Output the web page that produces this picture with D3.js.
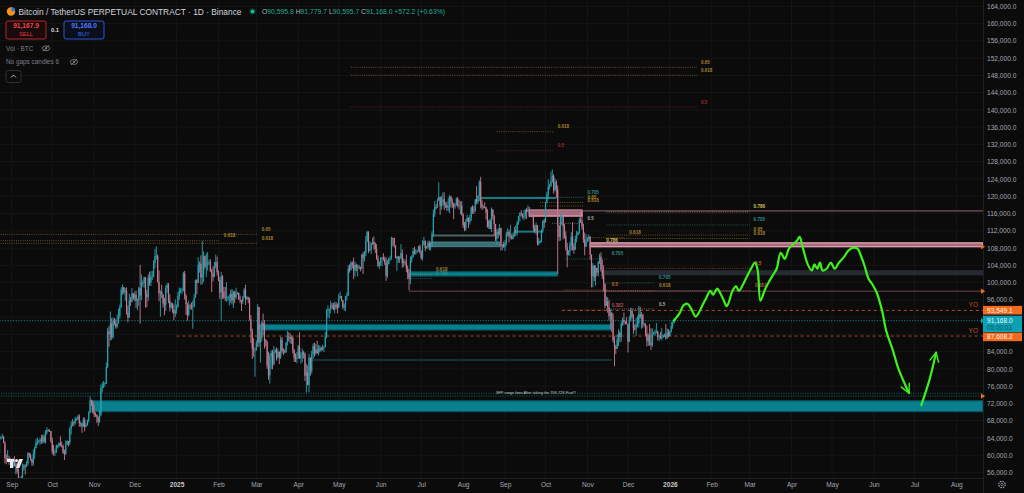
<!DOCTYPE html>
<html><head><meta charset="utf-8">
<script src="https://cdn.jsdelivr.net/npm/d3@7"></script>
<style>
html,body{margin:0;padding:0;background:#0b0b0b;overflow:hidden}
svg{display:block;font-family:"Liberation Sans",Arial,sans-serif}
</style></head><body>
<svg id="c" width="1024" height="493"></svg>
<script>
// ---------------- DATA (daily candles, thousands of USDT) ----------------
const firstDate = "2024-08-23";
const firstOpenK = 60.4;
const closeK = [
64.1,64.2,64.2,62.8,59.4,59.0,59.4,59.1,58.9,
57.3,59.1,57.5,58.0,56.2,53.9,54.2,54.9,57.0,57.6,57.4,58.1,60.5,60.0,59.1,58.2,60.3,61.7,62.9,63.2,63.3,63.6,63.3,64.3,63.1,65.2,65.8,65.8,65.6,63.3,
60.8,60.6,60.8,62.1,62.1,62.8,62.2,62.1,60.6,60.3,62.4,63.2,62.9,66.1,67.0,67.6,67.4,68.4,68.4,69.0,67.4,67.4,66.7,68.2,66.6,67.0,68.0,69.9,72.7,72.3,70.2,
69.5,69.4,68.8,67.8,69.4,75.6,75.9,76.5,76.7,80.5,88.7,88.0,90.5,87.3,91.1,90.6,89.8,90.5,92.3,94.3,98.3,98.9,97.7,98.0,93.0,91.9,95.9,95.6,97.5,96.4,
97.2,95.8,96.0,98.7,97.0,99.9,99.9,101.2,97.4,96.6,101.1,100.0,101.4,101.4,104.5,106.1,106.1,100.2,97.5,97.8,97.2,95.2,94.9,98.7,99.4,95.8,94.2,95.2,93.7,92.8,93.6,
94.4,96.9,98.1,98.2,98.3,102.1,96.9,95.0,92.5,94.7,94.6,94.5,94.5,96.5,100.5,99.9,104.1,104.4,101.2,102.0,106.1,103.7,104.0,104.7,104.7,102.6,102.1,101.3,103.7,104.7,102.4,
100.6,97.7,101.4,97.9,96.6,96.5,96.5,96.5,96.5,97.4,95.8,97.9,96.6,97.5,97.6,96.1,95.8,95.6,96.6,98.3,96.1,96.6,96.3,91.5,88.7,84.7,84.3,84.4,
86.0,94.3,86.1,87.2,90.6,89.9,86.7,86.2,80.7,78.5,82.9,83.7,81.1,83.9,84.3,82.6,84.0,82.7,86.8,84.2,84.0,83.8,86.1,87.5,87.4,86.9,87.2,84.4,82.6,82.3,82.5,
85.2,82.5,83.1,83.8,83.5,78.4,79.2,76.3,82.6,79.6,83.4,85.3,83.7,84.5,83.6,84.0,84.9,84.4,85.0,85.1,87.5,93.4,93.7,93.9,94.7,94.6,93.8,94.9,94.3,94.2,
96.5,96.9,95.9,94.3,94.7,96.8,97.0,103.2,102.9,104.6,104.1,102.8,104.1,103.5,103.7,103.5,103.2,106.5,105.6,106.8,109.6,111.7,107.3,107.8,109.0,109.4,108.9,107.8,105.6,103.9,104.6,
105.7,105.8,105.4,104.7,101.5,104.3,105.6,105.7,110.3,110.2,108.6,105.7,106.0,105.4,105.6,106.8,104.5,104.8,104.6,103.3,102.1,100.9,105.3,106.0,107.3,106.9,107.1,107.3,108.4,107.1,
105.7,108.8,109.6,108.0,108.2,109.2,108.2,108.9,111.3,115.9,117.5,117.4,119.1,119.8,117.7,118.7,119.3,117.9,118.0,117.3,117.4,119.9,118.8,118.3,117.6,117.9,119.4,118.0,117.8,117.8,115.7,
113.3,112.5,114.2,115.0,114.1,115.0,117.4,116.6,116.5,119.3,118.7,120.1,123.3,118.3,117.4,117.5,117.4,116.2,112.9,114.3,112.4,116.9,115.4,113.5,110.1,111.8,111.2,112.6,108.4,108.8,108.2,
109.2,111.2,111.7,110.7,110.7,110.2,111.1,112.1,111.5,113.9,115.4,116.1,115.9,115.3,115.3,116.8,116.4,117.0,115.6,115.7,115.2,112.7,112.0,113.3,109.0,109.6,109.6,112.1,114.3,114.0,
118.6,120.5,122.2,122.4,123.5,124.7,121.4,123.3,121.6,113.2,110.6,115.2,115.3,113.0,110.8,108.2,106.4,107.2,108.6,110.6,108.4,107.6,110.1,111.0,111.6,114.6,114.1,112.9,110.0,108.3,109.6,
110.1,110.6,106.5,101.5,103.9,101.3,103.4,102.3,104.7,106.0,103.0,101.6,99.7,94.6,95.6,94.3,92.2,92.9,91.5,86.6,85.1,84.7,86.8,88.3,87.4,90.5,91.3,90.9,90.8,90.4,
86.3,91.3,93.5,92.1,89.4,89.3,90.4,90.6,92.7,92.0,92.5,90.3,90.3,88.2,86.4,87.8,86.1,85.5,88.1,88.3,88.6,88.6,87.5,87.6,87.2,87.3,87.8,87.8,87.2,88.4,87.6,
88.7,89.9,90.6,91.168];
const highK = [
64.9,64.5,65.0,64.5,63.2,60.2,61.2,59.9,59.4,
59.0,59.4,59.8,58.5,58.3,56.9,54.8,55.3,58.1,58.0,57.9,58.6,60.7,60.6,60.4,59.2,61.3,62.0,63.8,64.1,63.6,64.0,64.7,64.8,64.8,65.8,66.5,66.1,66.0,65.6,
64.1,62.4,61.5,62.5,62.4,63.0,64.4,63.2,62.5,61.3,63.4,63.5,63.3,66.5,67.9,68.4,67.9,68.9,68.7,69.4,69.5,67.8,67.5,68.8,68.7,67.4,68.3,70.2,73.6,72.9,72.7,
71.6,69.9,69.4,69.0,70.5,76.4,76.9,77.2,76.9,81.5,89.5,89.9,93.3,91.8,91.9,91.8,91.5,92.6,94.0,94.9,98.9,99.6,99.0,98.7,98.9,94.7,97.4,96.7,98.7,97.5,
97.9,98.2,96.3,99.0,104.1,101.9,100.5,101.4,101.2,98.3,101.9,102.5,102.7,102.7,105.2,107.8,108.4,106.5,102.8,98.2,99.5,97.3,96.4,99.4,99.9,99.9,97.3,95.5,95.2,94.9,96.1,
94.9,97.8,98.9,98.7,98.8,102.5,102.7,97.3,95.3,95.8,95.0,95.4,95.8,97.4,100.7,100.8,105.9,104.9,106.3,109.6,107.2,106.3,106.8,107.1,105.3,105.4,103.2,103.8,104.8,106.5,106.0,
102.8,101.4,102.5,101.7,99.0,99.0,100.1,96.9,97.3,98.3,98.5,98.1,98.1,98.8,97.9,97.7,97.0,96.0,96.9,98.8,99.5,96.9,96.7,96.5,92.5,89.3,87.1,85.0,
86.6,95.0,94.4,88.9,91.0,92.8,91.3,86.9,86.5,84.0,83.6,84.3,84.4,85.3,84.7,85.0,84.7,84.0,87.4,87.4,84.8,84.5,86.2,88.8,88.5,88.3,87.8,87.5,84.6,83.6,83.9,
85.5,88.5,83.9,84.7,84.2,83.8,81.2,80.8,83.5,82.7,84.2,85.9,86.1,85.8,86.5,85.5,85.5,85.1,85.6,85.3,88.6,93.9,94.7,94.0,95.8,95.3,95.3,95.6,95.5,95.2,
97.4,97.9,96.9,96.0,95.2,96.9,97.7,104.0,104.2,104.9,104.9,105.8,104.9,104.4,104.2,104.1,103.7,106.6,107.1,107.3,110.8,112.0,111.9,109.5,109.3,110.4,110.7,109.3,108.9,106.3,104.9,
105.9,105.9,106.8,106.0,105.9,105.3,105.8,106.2,110.6,110.4,110.4,108.7,106.2,106.2,106.1,108.9,107.7,105.6,105.3,106.5,104.0,103.1,106.1,106.3,108.0,108.3,107.8,107.6,108.5,108.8,
107.5,109.8,110.6,109.8,108.5,109.7,109.7,109.2,111.9,116.9,118.9,118.2,119.5,123.2,119.9,120.1,120.9,120.9,118.6,118.8,119.7,120.3,120.1,119.5,118.5,118.4,119.7,119.8,119.2,118.8,118.9,
116.1,114.0,114.7,115.7,115.1,115.7,117.6,117.9,117.7,119.3,122.3,120.3,123.7,124.5,119.2,117.9,118.6,117.6,117.0,114.6,114.8,117.4,117.0,115.7,113.6,112.4,112.6,113.5,112.7,108.9,109.5,
109.9,111.8,112.6,112.2,113.4,111.3,111.6,112.9,113.2,114.3,115.5,116.3,116.8,116.0,116.7,117.0,117.3,117.9,117.5,116.2,115.9,115.4,113.4,113.9,113.3,110.3,109.8,112.3,114.5,114.8,
118.7,121.0,123.9,122.9,125.7,126.2,125.1,124.1,123.7,122.5,113.3,115.8,116.0,115.5,113.6,111.9,109.2,107.5,109.4,111.7,114.0,109.1,110.9,112.0,111.8,115.0,116.4,116.0,113.6,111.6,111.2,
110.5,111.2,110.8,106.5,104.5,104.1,104.0,103.4,105.0,106.7,107.0,105.3,104.0,99.8,96.8,96.6,96.0,93.8,93.2,92.8,87.5,85.6,88.0,89.2,88.8,91.0,91.9,93.1,91.2,92.0,
90.4,92.3,94.2,94.0,92.7,90.3,91.8,92.3,94.6,94.4,93.2,92.8,90.7,90.6,90.0,88.2,90.4,89.4,89.4,88.6,89.1,90.6,88.9,88.0,88.6,89.5,88.0,88.2,90.4,89.4,89.2,
88.9,90.9,90.9,91.78];
const lowK = [
60.3,63.6,63.8,62.8,58.1,57.9,58.8,57.8,58.7,
57.2,57.1,57.4,55.6,55.7,52.5,53.7,53.6,54.6,56.4,55.5,57.3,57.6,59.4,58.7,57.5,57.6,59.2,61.6,62.4,62.8,62.4,62.7,62.7,62.8,62.7,64.8,65.4,65.4,62.9,
60.2,59.9,59.8,60.5,61.6,61.8,62.1,61.8,60.3,58.9,60.1,62.4,62.0,62.4,64.8,66.7,66.7,67.1,68.0,68.1,66.6,66.6,65.2,66.5,65.5,66.5,66.8,67.6,69.7,71.4,69.7,
68.8,68.9,67.5,66.8,67.5,69.0,74.5,75.6,75.9,76.5,80.2,85.1,86.6,86.7,87.1,90.1,89.3,89.4,90.6,91.6,94.1,97.2,97.2,95.8,92.6,90.8,91.8,94.6,95.4,96.0,
95.7,94.1,93.6,94.6,90.5,95.9,99.0,98.8,94.2,94.3,95.7,99.3,99.2,100.6,101.2,103.3,105.3,100.0,95.7,92.1,96.4,94.2,92.4,93.4,97.6,95.2,93.3,94.0,93.0,91.3,92.0,
92.8,94.2,96.0,97.5,97.3,97.9,96.1,92.5,91.2,92.2,93.8,93.7,89.3,94.3,96.5,97.3,99.9,102.3,99.5,99.6,100.1,103.2,101.3,102.8,104.1,102.5,97.8,100.3,101.3,103.3,101.6,
100.3,96.2,91.2,96.2,96.2,95.7,95.6,95.7,94.7,95.3,94.9,94.1,95.2,96.2,97.2,96.0,95.2,93.4,95.0,96.4,94.8,96.0,95.2,91.2,86.0,82.3,82.8,78.2,
84.2,85.1,85.1,81.4,86.3,87.8,84.7,85.2,80.0,77.5,76.6,80.0,79.9,80.8,83.6,81.9,82.4,81.1,82.3,83.6,83.2,83.6,83.8,85.4,86.3,85.9,85.8,83.6,81.6,81.6,81.3,
82.4,82.3,81.2,81.6,82.4,77.2,74.5,76.2,74.6,78.4,78.9,82.3,82.8,83.2,83.6,83.1,83.8,84.1,84.3,83.9,85.0,87.1,91.9,91.7,92.9,93.9,93.6,92.9,93.8,92.9,
94.1,96.3,95.7,93.9,93.5,93.4,95.8,96.9,102.3,102.8,103.3,100.8,101.4,102.6,101.4,103.1,102.6,103.1,102.0,104.9,106.1,109.3,106.8,107.3,106.6,108.7,107.6,106.8,105.3,103.6,103.1,
103.8,103.8,105.1,104.1,100.4,101.1,104.2,105.0,105.3,108.4,108.1,105.6,102.7,104.5,104.6,105.5,103.4,103.6,104.0,102.4,100.8,98.2,99.6,104.6,105.8,106.5,106.4,106.8,107.2,106.7,
105.3,105.1,108.6,107.3,107.8,107.8,107.5,107.4,108.3,110.6,115.2,116.9,117.3,118.9,115.7,116.9,117.8,116.8,117.3,116.6,116.5,116.1,117.4,117.3,114.7,117.1,117.8,117.4,116.9,115.8,115.5,
112.7,111.9,112.0,114.1,112.6,113.4,114.3,115.9,115.9,116.5,118.1,118.2,118.9,117.2,116.8,117.1,117.2,114.6,112.7,112.4,112.4,111.7,114.6,110.8,109.6,108.7,110.3,110.9,107.4,107.5,108.1,
107.3,108.6,110.6,109.3,110.2,109.9,110.0,110.6,110.8,110.9,113.4,114.2,115.3,114.8,114.4,114.8,114.7,116.4,115.1,115.5,115.1,111.9,111.5,111.1,108.6,108.6,109.1,109.3,111.6,112.7,
113.9,118.3,119.3,121.6,122.1,123.1,120.6,121.1,119.7,102.0,109.6,109.7,113.3,110.0,110.2,107.4,103.5,106.3,106.1,107.5,107.4,106.7,107.6,109.3,110.9,111.3,113.8,112.2,109.2,106.3,108.6,
109.4,109.5,105.3,98.9,98.9,100.3,99.3,101.5,101.4,104.3,102.5,100.8,98.0,94.0,94.6,93.0,91.2,89.2,88.6,86.1,80.6,83.5,84.6,85.3,86.1,86.3,89.9,90.2,90.3,90.3,
83.8,86.2,91.0,91.7,88.1,88.9,87.7,89.6,89.6,91.6,89.3,89.5,89.8,87.6,85.2,85.3,85.4,84.4,85.1,87.9,87.6,88.2,86.6,86.4,86.9,86.6,87.2,87.4,86.8,86.9,87.3,
87.6,88.4,89.3,90.6];

// axis ticks
const priceTicksK = [56,60,64,68,72,76,80,84,88,92,96,100,104,108,112,116,120,124,128,132,136,140,144,148,152,156,160,164];
const hiddenTicksK = [88,92];
const monthLabels = ["Sep","Oct","Nov","Dec","2025","Feb","Mar","Apr","May","Jun","Jul","Aug","Sep","Oct","Nov","Dec","2026","Feb","Mar","Apr","May","Jun","Jul","Aug"];

// drawings: [startDate, endDate (null = right edge), lowK, highK, kind]
const zones = [
  ["2024-10-30", null, 70.08, 72.62, "tealZone"],
  ["2025-03-02", "2025-11-19", 89.0, 90.3, "tealZone"],
  ["2025-06-22", "2025-10-10", 101.5, 102.5, "tealZone"],
  ["2025-07-08", "2025-08-28", 108.3, 109.4, "tealMuted"],
  ["2025-11-12", null, 101.75, 102.75, "grayZone"],
  ["2025-11-03", null, 108.3, 109.2, "pinkZone"],
  ["2025-09-19", "2025-10-28", 115.4, 116.8, "pinkZone"]
];
// horizontal lines: [startDate, endDate, priceK, kind]
const levels = [
  ["2024-08-01", null, 74.35, "tealDot"],
  ["2024-08-01", null, 73.72, "tealDot"],
  ["2024-08-01", null, 91.168, "priceDot"],
  ["2025-01-01", null, 87.6082, "yearOpen"],
  ["2025-10-13", null, 93.5491, "yearOpen"],
  ["2025-06-22", null, 98.0, "mauve"],
  ["2025-09-19", null, 116.6, "pinkLine"],
  ["2025-04-11", "2025-11-19", 82.06, "tealThin"],
  ["2025-08-14", "2025-10-09", 119.6, "tealLine"],
  ["2025-09-10", "2025-09-29", 111.8, "tealLine"],
  ["2025-07-09", "2025-08-24", 110.9, "grayLine"]
];
// fib levels: [startDate, endDate, priceK, label, kind]
const fibs = [
  ["2025-05-10", "2026-01-21", 149.87, "0.65", "gold"],
  ["2025-05-10", "2026-01-21", 148.02, "0.618", "gold"],
  ["2025-05-10", "2026-01-21", 140.67, "0.5", "red"],
  ["2025-08-26", "2025-10-07", 134.95, "0.618", "gold"],
  ["2025-08-26", "2025-10-07", 130.55, "0.5", "red"],
  ["2024-08-01", "2025-03-02", 111.18, "0.65", "gold"],
  ["2024-08-01", "2025-02-02", 109.70, "0.618", "gold"],
  ["2024-08-01", "2025-03-02", 109.10, "0.618", "gold"],
  ["2025-06-22", "2025-07-09", 101.9, "0.618", "gold"],
  ["2025-06-22", "2025-07-09", 100.9, "0.705", "teal"],
  ["2025-09-27", "2025-10-29", 119.71, "0.705", "teal"],
  ["2025-09-27", "2025-10-29", 118.55, "0.65", "gold"],
  ["2025-09-27", "2025-10-29", 117.74, "0.618", "gold"],
  ["2025-10-06", "2025-10-29", 113.73, "0.5", "white"],
  ["2025-11-15", "2026-03-01", 116.35, "0.786", "yellow"],
  ["2025-11-15", "2026-03-01", 113.34, "0.705", "teal"],
  ["2025-11-15", "2026-03-01", 111.02, "0.65", "gold"],
  ["2025-11-15", "2026-03-01", 110.21, "0.618", "gold"],
  ["2025-11-03", "2025-11-29", 110.39, "0.618", "gold"],
  ["2025-11-04", "2025-11-12", 108.7, "0.786", "yellow"],
  ["2025-10-15", "2025-11-16", 105.46, "0.705", "teal"],
  ["2025-11-15", "2026-03-02", 103.3, "0.5", "orange"],
  ["2025-11-15", "2025-12-21", 99.9, "0.705", "teal"],
  ["2025-10-15", "2025-11-16", 98.28, "0.5", "orange"],
  ["2025-11-15", "2025-12-21", 98.05, "0.618", "gold"],
  ["2025-11-15", "2026-03-02", 98.16, "0.382", "rose"],
  ["2025-10-15", "2025-11-16", 93.64, "0.382", "rose"],
  ["2025-11-15", "2025-12-21", 93.87, "0.5", "white"]
];
const noteText = ["2025-09-01", 74.2, "SFP range lows After taking the 70K-72K Fuel?"];
// hand-drawn projection: [date, priceK]
const projection = [
 ["2026-01-04",91.17],["2026-01-08",92.8],["2026-01-11",94.7],["2026-01-14",95.1],["2026-01-17",93.8],["2026-01-20",92.1],
 ["2026-01-22",92.8],["2026-01-25",94.7],["2026-01-28",96.5],["2026-01-31",98.1],["2026-02-02",97.2],["2026-02-05",98.6],
 ["2026-02-07",97.7],["2026-02-10",95.8],["2026-02-12",94.5],["2026-02-14",95.8],["2026-02-16",97.9],["2026-02-19",99.1],
 ["2026-02-21",98.1],["2026-02-24",99.5],["2026-02-27",101.4],["2026-03-02",103.2],["2026-03-05",104.6],["2026-03-07",102.8],
 ["2026-03-09",95.8],["2026-03-12",98.1],["2026-03-15",100.0],["2026-03-18",101.6],["2026-03-21",103.2],["2026-03-24",106.9],
 ["2026-03-27",105.5],["2026-03-30",107.8],["2026-04-02",108.8],["2026-04-05",109.7],["2026-04-07",110.6],["2026-04-09",108.5],
 ["2026-04-11",106.2],["2026-04-13",104.2],["2026-04-16",102.8],["2026-04-18",104.2],["2026-04-20",103.2],["2026-04-22",104.6],
 ["2026-04-24",102.8],["2026-04-27",103.2],["2026-04-30",104.6],["2026-05-03",103.2],["2026-05-06",104.6],["2026-05-10",106.0],
 ["2026-05-13",107.4],["2026-05-17",108.1],["2026-05-20",107.8],["2026-05-22",106.5],["2026-05-25",103.9],["2026-05-28",100.9],
 ["2026-05-31",99.5],["2026-06-03",97.7],["2026-06-07",93.5],["2026-06-10",88.9],["2026-06-15",84.3],["2026-06-19",80.1],
 ["2026-06-24",76.4],["2026-06-27",74.4]];
const projection2 = [["2026-07-06",71.6],["2026-07-12",77.4],["2026-07-17",83.8]];
const tags = [[93549.1,"orange",null],[91168.0,"teal","05:00:03"],[87608.2,"orange",null]];
const axisMarksK = [108.3, 98.0, 73.7];

// ---------------- RENDER ----------------
const W=1024,H=493,PR=983,PB=478;
const parse = d3.utcParse("%Y-%m-%d");
const svg = d3.select("#c");
const x = d3.scaleUtc().domain([Date.UTC(2024,8,1), Date.UTC(2025,8,1)]).range([11.7,505]);
const y = d3.scaleLinear().domain([56000,164000]).range([472.5,6.3]);
const X = s => s===null ? PR : x(parse(s));
const K = v => y(v*1000);

svg.append("rect").attr("width",W).attr("height",H).attr("fill","#0b0b0b");
const defs = svg.append("defs");
defs.append("clipPath").attr("id","plot").append("rect").attr("width",PR).attr("height",PB);
defs.append("marker").attr("id","arr").attr("viewBox","0 0 10 10").attr("refX",9).attr("refY",5)
  .attr("markerWidth",5).attr("markerHeight",5).attr("orient","auto").attr("markerUnits","strokeWidth")
  .append("path").attr("d","M1,1 L9,5 L1,9").attr("fill","none").attr("stroke","#3cf21a").attr("stroke-width",1.3)
  .attr("stroke-linecap","round").attr("stroke-linejoin","round");

const months = d3.utcMonth.range(Date.UTC(2024,8,1), Date.UTC(2026,8,1));
const plot = svg.append("g").attr("clip-path","url(#plot)");
// grid
plot.append("g").selectAll("line").data(months).join("line")
  .attr("x1",d=>x(d)).attr("x2",d=>x(d)).attr("y1",0).attr("y2",PB).attr("stroke","#151515").attr("stroke-width",1);
plot.append("g").selectAll("line").data(priceTicksK).join("line")
  .attr("x1",0).attr("x2",PR).attr("y1",d=>K(d)).attr("y2",d=>K(d)).attr("stroke","#151515").attr("stroke-width",1);

// zones
const zoneStyle = {
  tealZone:{fill:"#0a7f8d",stroke:"#06505a",sw:1.2,op:1},
  tealMuted:{fill:"#3c7c82",stroke:"#5a9a9f",sw:0.8,op:0.9},
  grayZone:{fill:"#262a33",stroke:"#2f333d",sw:0.5,op:1},
  pinkZone:{fill:"#a86a7e",stroke:"#eaaabb",sw:1.2,op:1}
};
plot.append("g").selectAll("rect").data(zones).join("rect")
  .attr("x",d=>X(d[0])).attr("width",d=>X(d[1])-X(d[0]))
  .attr("y",d=>K(d[3])).attr("height",d=>K(d[2])-K(d[3]))
  .attr("fill",d=>zoneStyle[d[4]].fill).attr("stroke",d=>zoneStyle[d[4]].stroke)
  .attr("stroke-width",d=>zoneStyle[d[4]].sw).attr("opacity",d=>zoneStyle[d[4]].op);

// levels
const levelStyle = {
  tealDot:{c:"#0f5e66",w:0.9,dash:"1.2,1.2"},
  priceDot:{c:"#138d9b",w:0.9,dash:"1.2,1.5"},
  yearOpen:{c:"#c2501b",w:0.9,dash:"3,3"},
  mauve:{c:"#6b4552",w:1,dash:null},
  pinkLine:{c:"#9a6274",w:1,dash:null},
  tealThin:{c:"#1a5a62",w:1,dash:null},
  tealLine:{c:"#137a86",w:2,dash:null},
  grayLine:{c:"#4b6468",w:2,dash:null}
};
plot.append("g").selectAll("line").data(levels).join("line")
  .attr("x1",d=>X(d[0])).attr("x2",d=>X(d[1])).attr("y1",d=>K(d[2])).attr("y2",d=>K(d[2]))
  .attr("stroke",d=>levelStyle[d[3]].c).attr("stroke-width",d=>levelStyle[d[3]].w)
  .attr("stroke-dasharray",d=>levelStyle[d[3]].dash);

// fibs
const fibColor = {gold:"#a8832c",red:"#9a2c32",teal:"#2b8f88",white:"#a9a9a9",yellow:"#d6c15a",orange:"#c8661f",rose:"#b0525a"};
const fg = plot.append("g");
fg.selectAll("line").data(fibs).join("line")
  .attr("x1",d=>X(d[0])).attr("x2",d=>X(d[1])).attr("y1",d=>K(d[2])).attr("y2",d=>K(d[2]))
  .attr("stroke",d=>fibColor[d[4]]).attr("stroke-width",0.8).attr("stroke-dasharray","1,1.2").attr("opacity",0.75);
fg.selectAll("text").data(fibs).join("text")
  .attr("x",d=>X(d[1])+4).attr("y",d=>K(d[2])-3.5)
  .attr("fill",d=>fibColor[d[4]]).attr("font-size",4.6).attr("font-weight","bold").text(d=>d[3]);

// candles
const d0 = parse(firstDate);
const candles = closeK.map((c,i)=>({date:d3.utcDay.offset(d0,i), o:i?closeK[i-1]:firstOpenK, c, h:highK[i], l:lowK[i]}));
const UP="#25a3b1", DN="#c47a90";
const cg = plot.append("g");
cg.selectAll("rect.w").data(candles).join("rect").attr("class","w")
  .attr("x",d=>x(d.date)-0.45).attr("width",0.9)
  .attr("y",d=>y(Math.max(d.h,d.o,d.c)*1000)).attr("height",d=>y(Math.min(d.l,d.o,d.c)*1000)-y(Math.max(d.h,d.o,d.c)*1000))
  .attr("fill",d=>d.c>=d.o?UP:DN);
cg.selectAll("rect.b").data(candles).join("rect").attr("class","b")
  .attr("x",d=>x(d.date)-0.6).attr("width",1.2)
  .attr("y",d=>y(Math.max(d.o,d.c)*1000)).attr("height",d=>Math.max(0.8,Math.abs(y(d.o*1000)-y(d.c*1000))))
  .attr("fill",d=>d.c>=d.o?UP:DN);

// note
plot.append("text").attr("x",X(noteText[0])-9).attr("y",K(noteText[1])).attr("fill","#c9c9c9")
  .attr("font-size",3.8).text(noteText[2]);

// YO labels
plot.selectAll("text.yo").data(levels.filter(d=>d[3]==="yearOpen")).join("text").attr("class","yo")
  .attr("x",PR-5).attr("y",d=>K(d[2])-3.5).attr("text-anchor","end").attr("fill","#c2501b").attr("font-size",6.5).text("YO");

// projection
const line = d3.line().x(d=>X(d[0])).y(d=>K(d[1])).curve(d3.curveCatmullRom.alpha(0.5));
plot.append("path").attr("d",line(projection)).attr("fill","none").attr("stroke","#3cf21a").attr("stroke-width",2.2)
  .attr("stroke-linecap","round").attr("stroke-linejoin","round").attr("marker-end","url(#arr)");
plot.append("path").attr("d",line(projection2)).attr("fill","none").attr("stroke","#3cf21a").attr("stroke-width",2.2)
  .attr("stroke-linecap","round").attr("marker-end","url(#arr)");

// TV logo
const logo = svg.append("g").attr("fill","#e8e8e8");
logo.append("rect").attr("x",7).attr("y",459).attr("width",7).attr("height",3);
logo.append("rect").attr("x",10).attr("y",459).attr("width",3).attr("height",9);
logo.append("circle").attr("cx",16.5).attr("cy",460.5).attr("r",1.6);
logo.append("path").attr("d","M19,459 L23,459 L19.5,468 L16,468 Z");

// separators
svg.append("line").attr("x1",PR+0.5).attr("x2",PR+0.5).attr("y1",0).attr("y2",H).attr("stroke","#1f1f1f");
svg.append("line").attr("x1",0).attr("x2",PR).attr("y1",PB+0.5).attr("y2",PB+0.5).attr("stroke","#1f1f1f");

// price axis
const ya = d3.axisRight(y).tickValues(priceTicksK.filter(v=>!hiddenTicksK.includes(v)).map(v=>v*1000))
  .tickFormat(d3.format(",.1f")).tickSize(0).tickPadding(4);
const yag = svg.append("g").attr("transform",`translate(${PR},0)`).call(ya);
yag.select(".domain").remove();
yag.selectAll("text").attr("fill","#a3a6af").attr("font-size",6.6).attr("font-family","Liberation Sans, Arial");

// time axis
const xa = d3.axisBottom(x).tickValues(months).tickFormat((d,i)=>monthLabels[i]).tickSize(0).tickPadding(4);
const xag = svg.append("g").attr("transform",`translate(0,${PB})`).call(xa);
xag.select(".domain").remove();
xag.selectAll("text").attr("fill",(d,i)=>monthLabels[i].length===4?"#c8c8c8":"#a3a6af")
  .attr("font-weight",(d,i)=>monthLabels[i].length===4?"bold":"normal").attr("font-size",6.6).attr("font-family","Liberation Sans, Arial");

// axis marks (triangles)
svg.selectAll("path.mk").data(axisMarksK).join("path").attr("class","mk")
  .attr("d",d=>`M${PR-2},${K(d)-2.6} L${PR+2.2},${K(d)} L${PR-2},${K(d)+2.6} Z`).attr("fill","#f26b1d");

// tags
const tg = svg.append("g");
tags.forEach(([p,kind,sub])=>{
  const cy=y(p);
  if(kind==="teal"){
    tg.append("rect").attr("x",PR).attr("y",cy-5).attr("width",39).attr("height",16.5).attr("fill","#0aa1b4");
    tg.append("path").attr("d",`M${PR-2},${cy-3} L${PR+1},${cy} L${PR-2},${cy+3} Z`).attr("fill","#0aa1b4");
    tg.append("text").attr("x",PR+4).attr("y",cy+2.4).attr("fill","#e6f7f9").attr("font-size",6.6).text(d3.format(",.1f")(p));
    tg.append("text").attr("x",PR+4).attr("y",cy+9).attr("fill","#0b5660").attr("font-size",6.4).text(sub);
  } else {
    const top = kind==="orange" && p<88000 ? cy-3.5 : cy-4.5;
    tg.append("rect").attr("x",PR).attr("y",top).attr("width",39).attr("height",8.6).attr("fill","#f26b1d");
    tg.append("text").attr("x",PR+4).attr("y",top+6.6).attr("fill","#fff2ea").attr("font-size",6.6).text(d3.format(",.1f")(p));
  }
});

// header
const hd = svg.append("g");
hd.append("circle").attr("cx",11).attr("cy",11.5).attr("r",4.2).attr("fill","#f7931a");
hd.append("circle").attr("cx",13.2).attr("cy",9.5).attr("r",2).attr("fill","#3b6fd8");
hd.append("text").attr("x",18.5).attr("y",14.5).attr("fill","#d1d4dc").attr("font-size",8.2)
  .attr("textLength",223).attr("lengthAdjust","spacingAndGlyphs").text("Bitcoin / TetherUS PERPETUAL CONTRACT · 1D · Binance");
hd.append("circle").attr("cx",252.5).attr("cy",11.5).attr("r",3.2).attr("fill","#0c3d36");
hd.append("circle").attr("cx",252.5).attr("cy",11.5).attr("r",1.8).attr("fill","#1fbf9a");
const ohlc = hd.append("text").attr("x",262).attr("y",14).attr("font-size",6.8);
[["O","#b2b5be"],["90,595.8 ","#22ab94"],["H","#b2b5be"],["91,779.7 ","#22ab94"],["L","#b2b5be"],["90,595.7 ","#22ab94"],["C","#b2b5be"],["91,168.0 +572.2 (+0.63%)","#22ab94"]]
  .forEach(([t,c])=>ohlc.append("tspan").attr("fill",c).text(t));
// sell/buy
hd.append("rect").attr("x",6).attr("y",21).attr("width",40).attr("height",18).attr("rx",2).attr("fill","#1a0a0c").attr("stroke","#b3272f").attr("stroke-width",1);
hd.append("text").attr("x",26).attr("y",27.5).attr("text-anchor","middle").attr("fill","#f0464f").attr("font-size",6.6).attr("font-weight","bold").text("91,167.9");
hd.append("text").attr("x",26).attr("y",35.8).attr("text-anchor","middle").attr("fill","#e03a44").attr("font-size",5.8).text("SELL");
hd.append("text").attr("x",55).attr("y",31.5).attr("text-anchor","middle").attr("fill","#d8d8d8").attr("font-size",5.8).attr("font-weight","bold").text("0.1");
hd.append("rect").attr("x",64).attr("y",21).attr("width",40).attr("height",18).attr("rx",2).attr("fill","#0b0f1c").attr("stroke","#2b55d6").attr("stroke-width",1);
hd.append("text").attr("x",84).attr("y",27.5).attr("text-anchor","middle").attr("fill","#4f7dff").attr("font-size",6.6).attr("font-weight","bold").text("91,168.0");
hd.append("text").attr("x",84).attr("y",35.8).attr("text-anchor","middle").attr("fill","#3d6cf0").attr("font-size",5.8).text("BUY");
hd.append("text").attr("x",6).attr("y",50.5).attr("fill","#7c7f88").attr("font-size",6.4).text("Vol · BTC");
hd.append("text").attr("x",6).attr("y",64).attr("fill","#7c7f88").attr("font-size",6.4).text("No gaps candles 6");
[[46,48.3],[74,62]].forEach(([cx,cy])=>{
  hd.append("ellipse").attr("cx",cx).attr("cy",cy).attr("rx",3.6).attr("ry",2.4).attr("fill","none").attr("stroke","#8a8d96").attr("stroke-width",0.8);
  hd.append("circle").attr("cx",cx).attr("cy",cy).attr("r",1).attr("fill","#8a8d96");
  hd.append("line").attr("x1",cx-3).attr("y1",cy+3).attr("x2",cx+3).attr("y2",cy-3).attr("stroke","#8a8d96").attr("stroke-width",0.8);
});
hd.append("rect").attr("x",6).attr("y",70.5).attr("width",15).attr("height",12).attr("rx",2).attr("fill","#0b0b0b").attr("stroke","#3a3a3a").attr("stroke-width",0.8);
hd.append("path").attr("d","M11,77.5 L13.5,75 L16,77.5").attr("fill","none").attr("stroke","#c8c8c8").attr("stroke-width",0.9);
// settings gear
svg.append("circle").attr("cx",1002).attr("cy",484.5).attr("r",3.2).attr("fill","none").attr("stroke","#9a9da6").attr("stroke-width",1.2).attr("stroke-dasharray","1.6,0.9");
svg.append("circle").attr("cx",1002).attr("cy",484.5).attr("r",1.2).attr("fill","none").attr("stroke","#9a9da6").attr("stroke-width",0.7);
</script></body></html>
